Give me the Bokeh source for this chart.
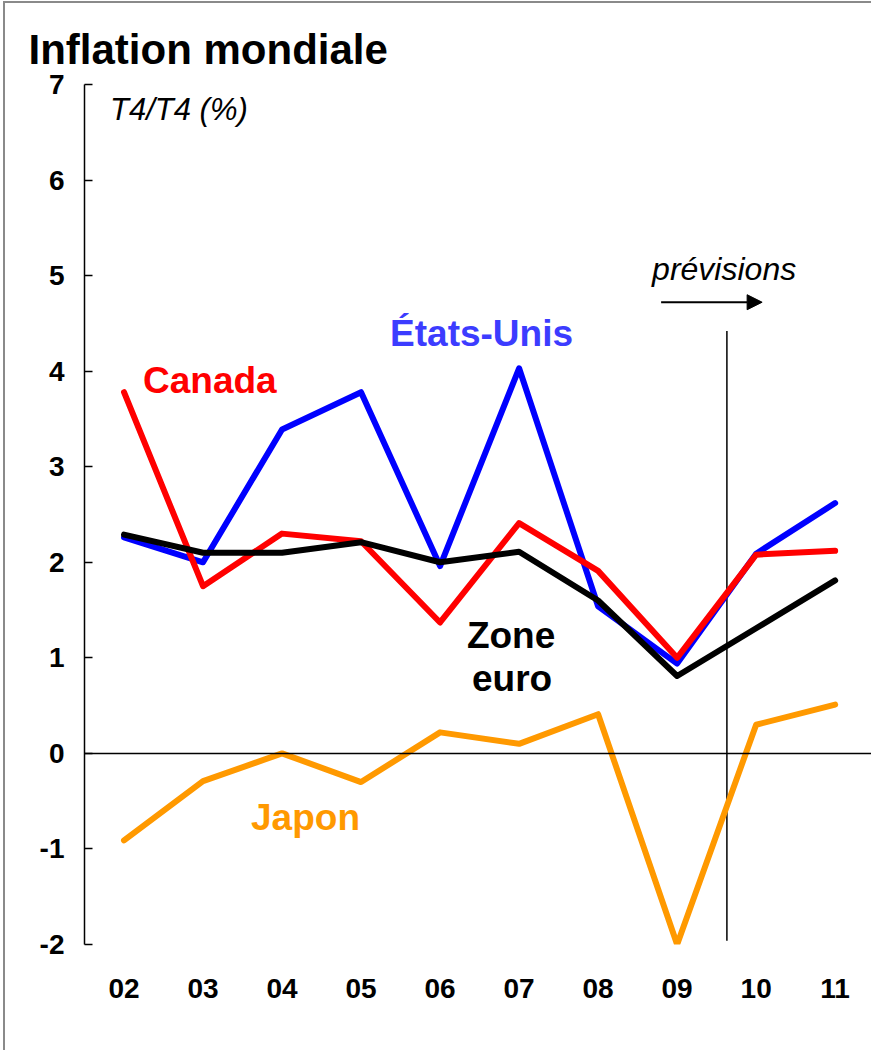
from bokeh.plotting import figure
from bokeh.models import (Range1d, FixedTicker, Span, Label, Arrow, NormalHead)
from bokeh.embed import file_html
from bokeh.resources import INLINE

# ---- data ----
years = ["02", "03", "04", "05", "06", "07", "08", "09", "10", "11"]
etats_unis = [2.26, 2.0, 3.39, 3.78, 1.96, 4.03, 1.54, 0.94, 2.09, 2.62]
canada = [3.78, 1.75, 2.30, 2.22, 1.37, 2.41, 1.91, 1.00, 2.08, 2.12]
zone_euro = [2.29, 2.10, 2.10, 2.21, 2.00, 2.11, 1.60, 0.81, 1.31, 1.81]
japon = [-0.91, -0.29, 0.0, -0.30, 0.22, 0.10, 0.41, -2.0, 0.30, 0.51]
y_ticks = [-2, -1, 0, 1, 2, 3, 4, 5, 6, 7]
y_tick_labels = ["-2", "-1", "0", "1", "2", "3", "4", "5", "6", "7"]
forecast_x = 7.63  # position of the forecast separator (between 09 and 10)

FONT = "Liberation Sans"
xs = list(range(len(years)))

p = figure(width=871, height=1050, output_backend="svg", toolbar_location=None,
           x_range=Range1d(-0.5, 9.46), y_range=Range1d(-2, 7),
           min_border_left=84, min_border_right=0, min_border_top=84,
           min_border_bottom=106,
           styles={"box-shadow": "inset 3px 1px 0 0 white, inset 5px 3px 0 0 #8a8a8a"})
p.outline_line_color = None
p.grid.grid_line_color = None
p.background_fill_color = "white"
p.border_fill_color = None
p.border_fill_alpha = 0

# title
p.title.text = "Inflation mondiale"
p.title.text_font = FONT
p.title.text_font_style = "bold"
p.title.text_font_size = "42px"
p.title.text_color = "black"
p.title.align = "left"
p.title.offset = -56
p.title.standoff = 24

# y axis
yax = p.yaxis[0]
yax.ticker = FixedTicker(ticks=y_ticks)
yax.major_label_overrides = dict(zip(y_ticks, y_tick_labels))
yax.minor_tick_line_color = None
yax.major_tick_in = 8
yax.major_tick_out = 0
yax.major_tick_line_width = 1.5
yax.axis_line_width = 1.5
yax.axis_line_color = "black"
yax.major_tick_line_color = "black"
yax.major_label_standoff = 20
yax.major_label_text_font = FONT
yax.major_label_text_font_style = "bold"
yax.major_label_text_font_size = "28px"
yax.major_label_text_color = "black"

# x axis
xax = p.xaxis[0]
xax.ticker = FixedTicker(ticks=xs)
xax.major_label_overrides = {i: y for i, y in enumerate(years)}
xax.axis_line_color = None
xax.major_tick_line_color = None
xax.minor_tick_line_color = None
xax.major_label_standoff = 28
xax.major_label_text_font = FONT
xax.major_label_text_font_style = "bold"
xax.major_label_text_font_size = "28px"
xax.major_label_text_color = "black"

# zero line
p.add_layout(Span(location=0, dimension="width", line_color="black", line_width=1.5))

# forecast separator
p.segment(x0=[forecast_x], y0=[4.42], x1=[forecast_x], y1=[-1.96],
          line_color="black", line_width=1.5)

# series
p.line(xs, etats_unis, line_color="#0000FF", line_width=6, line_join="round", line_cap="round")
p.line(xs, canada, line_color="#FF0000", line_width=6, line_join="round", line_cap="round")
p.line(xs, zone_euro, line_color="black", line_width=6, line_join="round", line_cap="round")
p.line(xs, japon, line_color="#FF9900", line_width=6, line_join="round", line_cap="round")


def px_x(px):
    return (px - 124) / 79.0


def px_y(py):
    return (752.7 - py) / 95.67


def lab(text, px, py, size, color="black", style="bold", align="left"):
    p.add_layout(Label(x=px_x(px), y=px_y(py - 12), text=text, text_font=FONT,
                       text_font_size=size, text_font_style=style,
                       text_color=color, text_align=align,
                       text_baseline="alphabetic"))


lab("T4/T4 (%)", 110, 120, "31px", style="italic")
lab("Canada", 143, 391, "37px", color="#FF0000")
lab("États-Unis", 390, 344, "37px", color="#3C3CFF")
lab("Zone", 511, 647, "37px", align="center")
lab("euro", 512, 690, "37px", align="center")
lab("Japon", 251, 829, "37px", color="#FF9900")
lab("prévisions", 652, 280, "32px", style="italic")

p.add_layout(Arrow(x_start=px_x(661), y_start=px_y(301), x_end=px_x(762), y_end=px_y(301),
                   line_color="black", line_width=2,
                   end=NormalHead(size=15, fill_color="black", line_color="black")))

open("out.html", "w").write(file_html(p, INLINE))
